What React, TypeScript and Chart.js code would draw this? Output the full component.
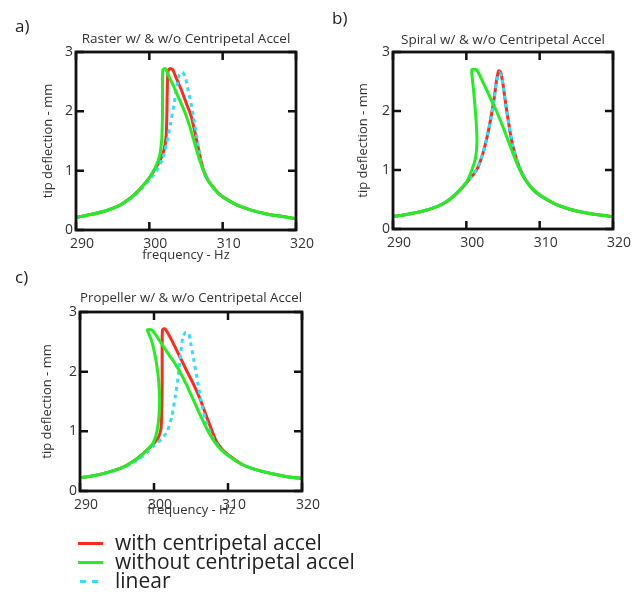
import React, { useEffect, useRef } from 'react';
import { Chart, registerables } from 'chart.js';

Chart.register(...registerables);

type Pt = [number, number];

const FONT = "'Open Sans', 'DejaVu Sans', sans-serif";

// Axis ticks
const xTickValues = [290, 300, 310, 320];
const yTickValues = [0, 1, 2, 3];

// Legend labels
const seriesLabels = ['with centripetal accel', 'without centripetal accel', 'linear'];
const seriesColors = ['#ff2a1e', '#22ee22', '#2ee0ff'];

// Panel a) Raster
const rasterWith: Pt[] = [
  [290, 0.21], [292, 0.26], [294, 0.32], [296, 0.42], [297, 0.5], [298, 0.6], [299, 0.73], [300, 0.88],
  [300.8, 1.03], [301.5, 1.18], [302.0, 1.35], [302.3, 1.6], [302.4, 2.0], [302.45, 2.4], [302.55, 2.68],
  [302.8, 2.72], [303.2, 2.7], [303.7, 2.55], [304.3, 2.38], [305.0, 2.15], [305.7, 1.92], [306.3, 1.6],
  [306.9, 1.25], [307.4, 1.0], [308.0, 0.84], [308.7, 0.72], [309.5, 0.61], [310.5, 0.52], [312, 0.42],
  [314, 0.33], [316, 0.27], [318, 0.23], [320, 0.19],
];
const rasterWithout: Pt[] = [
  [290, 0.21], [292, 0.26], [294, 0.32], [296, 0.42], [297, 0.5], [298, 0.6], [299, 0.73], [300, 0.88],
  [300.8, 1.05], [301.4, 1.25], [301.7, 1.55], [301.8, 2.0], [301.8, 2.4], [301.85, 2.7], [302.2, 2.72],
  [302.7, 2.58], [303.4, 2.4], [304.1, 2.2], [304.8, 2.0], [305.5, 1.75], [306.2, 1.45], [306.8, 1.2],
  [307.4, 1.0], [308.0, 0.84], [308.7, 0.72], [309.5, 0.61], [310.5, 0.52], [312, 0.42], [314, 0.33],
  [316, 0.27], [318, 0.23], [320, 0.19],
];
const rasterLinear: Pt[] = [
  [290, 0.21], [292, 0.26], [294, 0.32], [296, 0.42], [297, 0.49], [298, 0.58], [299, 0.7], [300, 0.84],
  [301, 1.0], [301.8, 1.2], [302.4, 1.48], [302.9, 1.8], [303.4, 2.15], [303.8, 2.45], [304.1, 2.62],
  [304.5, 2.66], [304.9, 2.58], [305.3, 2.35], [305.9, 2.0], [306.5, 1.55], [307.1, 1.1], [307.7, 0.9],
  [308.4, 0.76], [309.2, 0.64], [310.2, 0.54], [312, 0.42], [314, 0.33], [316, 0.27], [318, 0.23], [320, 0.19],
];

// Panel b) Spiral
const spiralWith: Pt[] = [
  [290, 0.21], [292, 0.25], [294, 0.3], [296, 0.38], [297, 0.44], [298, 0.53], [299, 0.64], [300, 0.78],
  [301, 0.93], [301.6, 1.05], [302.3, 1.3], [302.9, 1.6], [303.4, 1.92], [303.8, 2.22], [304.1, 2.5],
  [304.4, 2.68], [304.7, 2.65], [305.0, 2.45], [305.3, 2.18], [305.7, 1.85], [306.2, 1.48], [306.8, 1.2],
  [307.4, 1.0], [308.1, 0.83], [309, 0.68], [310, 0.57], [312, 0.43], [314, 0.34], [316, 0.28], [318, 0.24], [320, 0.21],
];
const spiralWithout: Pt[] = [
  [290, 0.21], [292, 0.25], [294, 0.3], [296, 0.38], [297, 0.44], [298, 0.53], [299, 0.65], [300.05, 0.8],
  [300.75, 1.0], [301.25, 1.2], [301.45, 1.5], [301.35, 1.8], [301.2, 2.05], [300.95, 2.4], [300.75, 2.7],
  [301.4, 2.7], [302.3, 2.48], [303.2, 2.24], [304.1, 2.0], [304.9, 1.76], [305.7, 1.5], [306.5, 1.24],
  [307.3, 1.0], [308.0, 0.84], [308.8, 0.71], [310, 0.58], [312, 0.43], [314, 0.34], [316, 0.28], [318, 0.24], [320, 0.21],
];
const spiralLinear: Pt[] = [
  [290, 0.21], [292, 0.25], [294, 0.3], [296, 0.38], [297, 0.44], [298, 0.53], [299, 0.64], [300, 0.78],
  [301, 0.93], [301.6, 1.05], [302.3, 1.3], [302.9, 1.6], [303.4, 1.9], [303.8, 2.2], [304.1, 2.48],
  [304.5, 2.65], [304.8, 2.58], [305.1, 2.35], [305.4, 2.08], [305.8, 1.78], [306.3, 1.43], [306.9, 1.17],
  [307.5, 0.98], [308.2, 0.82], [309, 0.68], [310, 0.57], [312, 0.43], [314, 0.34], [316, 0.28], [318, 0.24], [320, 0.21],
];

// Panel c) Propeller
const propWith: Pt[] = [
  [290, 0.22], [292, 0.26], [294, 0.32], [296, 0.41], [297, 0.48], [298, 0.57], [299, 0.68], [300, 0.8],
  [300.6, 0.9], [300.95, 1.05], [301.05, 1.35], [301.1, 1.8], [301.1, 2.3], [301.15, 2.7], [301.5, 2.72],
  [302.3, 2.55], [303.3, 2.3], [304.4, 2.02], [305.3, 1.8], [306.2, 1.55], [307.0, 1.28], [307.8, 1.02],
  [308.4, 0.84], [309.2, 0.7], [310.2, 0.59], [312, 0.44], [314, 0.35], [316, 0.29], [318, 0.24], [320, 0.21],
];
const propWithout: Pt[] = [
  [290, 0.22], [292, 0.26], [294, 0.32], [296, 0.41], [297, 0.48], [298, 0.57], [299, 0.68], [299.9, 0.81],
  [300.4, 1.0], [300.7, 1.3], [300.75, 1.6], [300.55, 1.95], [300.1, 2.3], [299.6, 2.55], [299.1, 2.7],
  [299.7, 2.7], [300.6, 2.55], [301.6, 2.36], [302.6, 2.18], [303.5, 2.0], [304.4, 1.78], [305.2, 1.56],
  [306.0, 1.34], [306.8, 1.13], [307.5, 0.96], [308.2, 0.82], [309.1, 0.69], [310.2, 0.58], [312, 0.44],
  [314, 0.35], [316, 0.29], [318, 0.24], [320, 0.21],
];
const propLinear: Pt[] = [
  [290, 0.22], [292, 0.26], [294, 0.32], [296, 0.4], [297, 0.46], [298, 0.54], [299, 0.64], [300, 0.76],
  [301, 0.87], [301.8, 1.0], [302.4, 1.25], [302.9, 1.6], [303.3, 1.95], [303.6, 2.3], [303.9, 2.58],
  [304.3, 2.66], [304.7, 2.64], [305.0, 2.45], [305.4, 2.18], [305.8, 1.9], [306.3, 1.55], [306.9, 1.22],
  [307.6, 0.98], [308.3, 0.82], [309.1, 0.69], [310.2, 0.58], [312, 0.44], [314, 0.35], [316, 0.29], [318, 0.24], [320, 0.21],
];

const frameTicks = {
  id: 'frameTicks',
  afterDraw(chart: any) {
    const { ctx, chartArea, scales } = chart;
    const { left, right, top, bottom } = chartArea;
    const len = 8;
    ctx.save();
    ctx.strokeStyle = '#111';
    ctx.lineWidth = 2.5;
    ctx.lineCap = 'butt';
    ctx.beginPath();
    scales.x.ticks.forEach((t: any) => {
      const px = scales.x.getPixelForValue(t.value);
      ctx.moveTo(px, bottom); ctx.lineTo(px, bottom - len);
      ctx.moveTo(px, top); ctx.lineTo(px, top + len);
    });
    scales.y.ticks.forEach((t: any) => {
      const py = scales.y.getPixelForValue(t.value);
      ctx.moveTo(left, py); ctx.lineTo(left + len, py);
      ctx.moveTo(right, py); ctx.lineTo(right - len, py);
    });
    ctx.stroke();
    ctx.lineWidth = 2.8;
    ctx.strokeRect(left, top, right - left, bottom - top);
    ctx.restore();
  },
};

type PanelCfg = {
  left: number; top: number; width: number; height: number;
  title: string;
  withData: Pt[]; withoutData: Pt[]; linearData: Pt[];
  yWidth: number; xHeight: number; padRight: number;
  titlePadTop: number; titlePadBottom: number;
  yTitlePad: number; xTitle: boolean; xTitlePadBottom: number;
};

function Panel(p: PanelCfg) {
  const ref = useRef<HTMLCanvasElement | null>(null);
  useEffect(() => {
    if (!ref.current) return;
    const toXY = (a: Pt[]) => a.map(([x, y]) => ({ x, y }));
    const ds = (label: string, data: Pt[], color: string, order: number, dash: number[]) => ({
      label, data: toXY(data), borderColor: color, backgroundColor: color, borderWidth: 3,
      showLine: true, pointRadius: 0, tension: 0.2, borderDash: dash, order, fill: false,
    });
    const chart = new Chart(ref.current, {
      type: 'scatter',
      data: {
        datasets: [
          ds(seriesLabels[1], p.withoutData, seriesColors[1], 0, []),
          ds(seriesLabels[2], p.linearData, seriesColors[2], 1, [4, 4]),
          ds(seriesLabels[0], p.withData, seriesColors[0], 2, []),
        ],
      },
      options: {
        animation: false,
        responsive: false,
        events: [],
        layout: { padding: { left: 0, right: p.padRight, top: 0, bottom: 0 } },
        plugins: {
          legend: { display: false },
          tooltip: { enabled: false },
          title: {
            display: true, text: p.title, fullSize: false, color: '#333',
            font: { family: FONT, size: 13.5, weight: 'normal' },
            padding: { top: p.titlePadTop, bottom: p.titlePadBottom },
          },
        },
        scales: {
          x: {
            type: 'linear', min: 290, max: 320,
            afterBuildTicks: (s: any) => { s.ticks = xTickValues.map((v) => ({ value: v })); },
            afterFit: (s: any) => { s.height = p.xHeight; },
            grid: { display: false, drawTicks: false },
            border: { display: false },
            ticks: { labelOffset: 6, padding: 6, maxRotation: 0, autoSkip: false, color: '#333', font: { family: FONT, size: 14 } },
            title: {
              display: p.xTitle, text: 'frequency - Hz', color: '#333',
              font: { family: FONT, size: 13 }, padding: { top: 0, bottom: p.xTitlePadBottom },
            },
          },
          y: {
            type: 'linear', min: 0, max: 3,
            afterBuildTicks: (s: any) => { s.ticks = yTickValues.map((v) => ({ value: v })); },
            afterFit: (s: any) => { s.width = p.yWidth; },
            grid: { display: false, drawTicks: false },
            border: { display: false },
            ticks: { padding: 3, color: '#333', font: { family: FONT, size: 14 } },
            title: {
              display: true, text: 'tip deflection - mm', color: '#333',
              font: { family: FONT, size: 13 }, padding: { top: p.yTitlePad, bottom: 0 },
            },
          },
        },
      } as any,
      plugins: [frameTicks],
    });
    return () => chart.destroy();
  }, []);
  return (
    <canvas
      ref={ref}
      width={p.width}
      height={p.height}
      style={{ position: 'absolute', left: p.left, top: p.top, width: p.width, height: p.height }}
    />
  );
}

const labelStyle = (left: number, top: number): React.CSSProperties => ({
  position: 'absolute', left, top, fontFamily: FONT, fontSize: 17, lineHeight: '20px', color: '#222',
});

export default function App() {
  const rows = [543, 562, 581];
  return (
    <div style={{ position: 'fixed', left: 0, top: 0, width: 639, height: 594, background: '#fff', overflow: 'hidden' }}>
      <Panel left={0} top={0} width={320} height={270} title="Raster w/ & w/o Centripetal Accel"
        withData={rasterWith} withoutData={rasterWithout} linearData={rasterLinear}
        yWidth={76} xHeight={40} padRight={24} titlePadTop={30.9} titlePadBottom={4.9}
        yTitlePad={40.2} xTitle={true} xTitlePadBottom={7.2} />
      <Panel left={320} top={0} width={319} height={270} title="Spiral w/ & w/o Centripetal Accel"
        withData={spiralWith} withoutData={spiralWithout} linearData={spiralLinear}
        yWidth={73} xHeight={41} padRight={26} titlePadTop={31.9} titlePadBottom={3.9}
        yTitlePad={35.2} xTitle={false} xTitlePadBottom={0} />
      <Panel left={0} top={260} width={330} height={270} title="Propeller w/ & w/o Centripetal Accel"
        withData={propWith} withoutData={propWithout} linearData={propLinear}
        yWidth={80} xHeight={39} padRight={28} titlePadTop={29.9} titlePadBottom={5.9}
        yTitlePad={39.2} xTitle={true} xTitlePadBottom={12.2} />
      <div style={labelStyle(15, 16)}>a)</div>
      <div style={labelStyle(332, 8)}>b)</div>
      <div style={labelStyle(15, 267)}>c)</div>
      {seriesLabels.map((lab, i) => (
        <React.Fragment key={lab}>
          {i < 2 ? (
            <div style={{ position: 'absolute', left: 78, top: rows[i] - 1.5, width: 25, height: 3, background: seriesColors[i] }} />
          ) : (
            <>
              <div style={{ position: 'absolute', left: 80, top: rows[i] - 1.5, width: 6, height: 3, background: seriesColors[i] }} />
              <div style={{ position: 'absolute', left: 92, top: rows[i] - 1.5, width: 6, height: 3, background: seriesColors[i] }} />
            </>
          )}
          <div style={{ position: 'absolute', left: 115, top: rows[i] - 14, fontFamily: FONT, fontSize: 21, lineHeight: '26px', color: '#222', whiteSpace: 'nowrap' }}>
            {lab}
          </div>
        </React.Fragment>
      ))}
    </div>
  );
}
